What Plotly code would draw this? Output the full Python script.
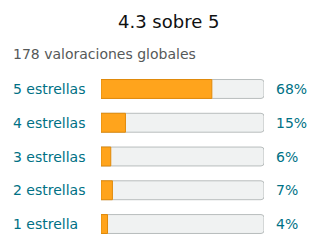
import plotly.graph_objects as go

categories = ["5 estrellas", "4 estrellas", "3 estrellas", "2 estrellas", "1 estrella"]
percents = [68, 15, 6, 7, 4]
pct_labels = ["68%", "15%", "6%", "7%", "4%"]
title_text = "4.3 sobre 5"
subtitle_text = "178 valoraciones globales"

FONT = "DejaVu Sans, Verdana, sans-serif"
TEAL = "#007185"

fig = go.Figure()
fig.add_trace(go.Bar(
    y=categories, x=[100] * len(categories), orientation="h",
    marker=dict(color="#f0f2f2", line=dict(color="#b8bdbd", width=1)),
    width=0.56, hoverinfo="skip", showlegend=False,
))
fig.add_trace(go.Bar(
    y=categories, x=percents, orientation="h",
    marker=dict(color="#ffa41c", line=dict(color="#e08a0a", width=1)),
    width=0.56, showlegend=False,
))

annotations = []
for c, p in zip(categories, pct_labels):
    annotations.append(dict(x=13 / 320, xref="paper", y=c, yref="y", text=c,
                            showarrow=False, xanchor="left", yanchor="middle",
                            xshift=-2,
                            font=dict(family=FONT, size=14, color=TEAL)))
    annotations.append(dict(x=276 / 320, xref="paper", y=c, yref="y", text=p,
                            showarrow=False, xanchor="left", yanchor="middle",
                            xshift=-2,
                            font=dict(family=FONT, size=14, color=TEAL)))
annotations.append(dict(x=13 / 320, xref="paper", y=1 - 54 / 252, yref="paper",
                        text=subtitle_text, showarrow=False, xanchor="left",
                        yanchor="middle", xshift=-2,
                        font=dict(family=FONT, size=14, color="#565959")))
annotations.append(dict(x=168 / 320, xref="paper", y=1 - 21 / 252, yref="paper",
                        text=title_text, showarrow=False, xanchor="center",
                        yanchor="middle",
                        font=dict(family=FONT, size=18, color="#0f1111")))

fig.update_layout(
    width=320, height=252,
    margin=dict(l=0, r=0, t=0, b=0),
    paper_bgcolor="white", plot_bgcolor="white",
    barmode="overlay", barcornerradius=3,
    xaxis=dict(domain=[101 / 320, 264 / 320], range=[0, 100], visible=False,
               fixedrange=True),
    yaxis=dict(domain=[(252 - 240.9) / 252, (252 - 72.1) / 252],
               range=[4.5, -0.5], categoryorder="array", categoryarray=categories,
               visible=False, fixedrange=True),
    annotations=annotations,
)

fig.write_html("out.html", config={"displayModeBar": False})
